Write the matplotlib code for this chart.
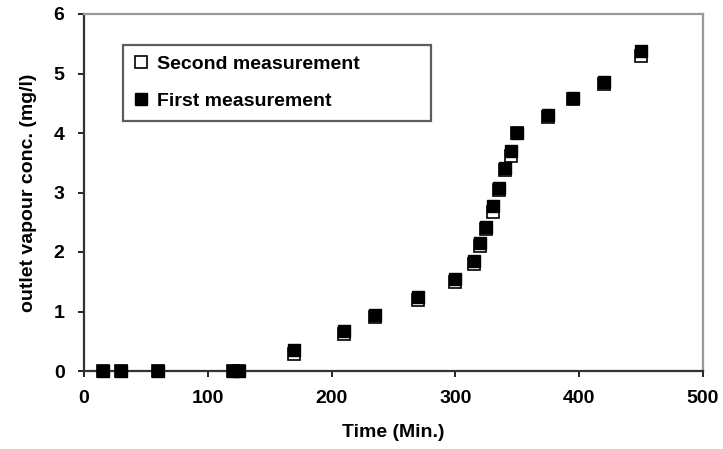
import matplotlib.pyplot as plt

# time in minutes
time_min = [15, 30, 60, 120, 125, 170, 210, 235, 270, 300, 315,
            320, 325, 330, 335, 340, 345, 350, 375, 395, 420, 450]
first_meas = [0, 0, 0, 0, 0, 0.35, 0.67, 0.94, 1.24, 1.55, 1.85,
              2.15, 2.42, 2.78, 3.08, 3.41, 3.69, 4.00, 4.30, 4.59, 4.86, 5.38]
second_meas = [0, 0, 0, 0, 0, 0.28, 0.62, 0.90, 1.20, 1.50, 1.80,
               2.10, 2.38, 2.68, 3.05, 3.38, 3.62, 4.00, 4.27, 4.57, 4.82, 5.30]

x_ticks = [0, 100, 200, 300, 400, 500]
y_ticks = [0, 1, 2, 3, 4, 5, 6]


def main():
    plt.rcParams["font.family"] = ["Liberation Sans", "DejaVu Sans"]
    plt.rcParams["font.weight"] = "bold"

    fig = plt.figure(figsize=(7.23, 4.49), dpi=100)
    ax = fig.add_axes([84 / 723, 1 - 371 / 449, 619 / 723, 357 / 449])

    ax.plot(time_min, second_meas, linestyle="none", marker="s", markersize=8.5,
            markerfacecolor="white", markeredgecolor="black", markeredgewidth=1.2,
            label="Second measurement", clip_on=False, zorder=3)
    ax.plot(time_min, first_meas, linestyle="none", marker="s", markersize=8.5,
            color="black", label="First measurement", clip_on=False, zorder=4)

    ax.set_xlim(0, 500)
    ax.set_ylim(0, 6)
    ax.set_xticks(x_ticks)
    ax.set_yticks(y_ticks)
    ax.tick_params(direction="out", length=4, width=1.2, labelsize=14, pad=10)
    for lbl in ax.get_xticklabels() + ax.get_yticklabels():
        lbl.set_fontweight("bold")

    ax.set_xlabel("Time (Min.)", fontsize=14, fontweight="bold", labelpad=12)
    ax.set_ylabel("outlet vapour conc. (mg/l)", fontsize=14, fontweight="bold", labelpad=12)

    for side in ["left", "bottom"]:
        ax.spines[side].set_color("#333333")
        ax.spines[side].set_linewidth(1.6)
    for side in ["top", "right"]:
        ax.spines[side].set_color("#999999")
        ax.spines[side].set_linewidth(1.6)

    leg = ax.legend(loc="upper left", bbox_to_anchor=(123 / 723, 1 - 49 / 449, 308 / 723, 0.01),
                    bbox_transform=fig.transFigure, mode="expand", fancybox=False,
                    frameon=True, edgecolor="#333333", fontsize=14, labelspacing=1.0,
                    borderpad=0.55, handlelength=0.8, handletextpad=0.4, borderaxespad=0)
    leg.get_frame().set_linewidth(1.6)
    for t in leg.get_texts():
        t.set_fontweight("bold")

    fig.savefig("out.png", dpi=100)
    plt.close(fig)


if __name__ == "__main__":
    main()
